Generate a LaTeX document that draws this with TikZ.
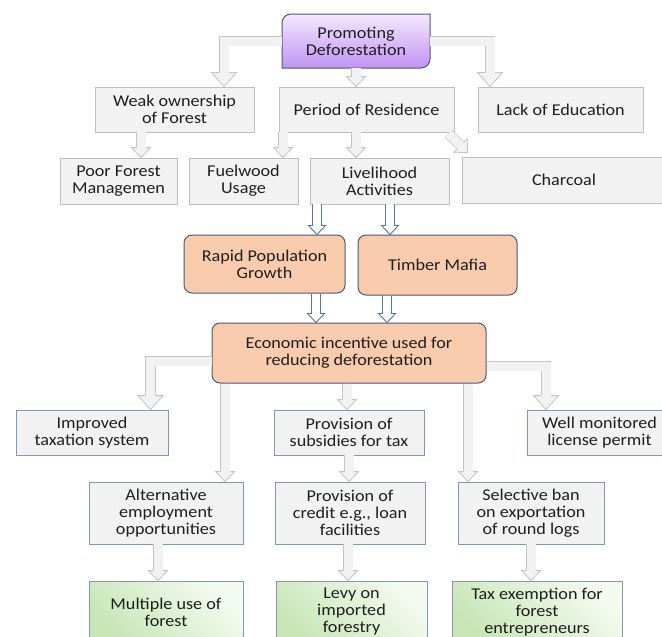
\documentclass[tikz,border=0pt]{standalone}
\usepackage{fontspec}
\setmainfont{Carlito}[FakeStretch=1.1]
\usetikzlibrary{calc}

\definecolor{boxfill}{HTML}{F2F2F2}
\definecolor{boxline}{HTML}{BFBFBF}
\definecolor{blueline}{HTML}{8497B0}
\definecolor{darkline}{HTML}{4A5A78}
\definecolor{orangefill}{HTML}{F8CBAD}
\definecolor{purpletop}{HTML}{F3E8FF}
\definecolor{purplebot}{HTML}{C193F2}
\definecolor{greenlight}{HTML}{F4FAF0}
\definecolor{greendark}{HTML}{C6E6B6}
\definecolor{arrowfill}{HTML}{F2F2F2}
\definecolor{arrowline}{HTML}{C4C4C4}
\definecolor{bluearrow}{HTML}{5676A8}

\tikzset{
  base/.style={align=center, inner sep=2pt, text=black!88,
    font=\fontsize{16.5}{17}\selectfont},
  graybox/.style={base, draw=boxline, fill=boxfill, line width=0.8pt},
  bluebox/.style={base, draw=blueline, fill=boxfill, line width=0.8pt},
  orangebox/.style={base, draw=darkline, fill=orangefill, line width=1pt, rounded corners=8pt},
  greenbox/.style={base, draw=blueline, line width=0.8pt,
    top color=greenlight, bottom color=greendark, shading angle=-45},
  gshaft/.style={draw=arrowline, line width=0.8pt, double=arrowfill, double distance=9pt},
  bshaft/.style={draw=bluearrow, line width=0.9pt, double=white, double distance=7.5pt},
  pics/ghead/.style 2 args={code={
    \fill[arrowfill] (-#1,#2) -- (0,0) -- (#1,#2) -- cycle;
    \draw[arrowline, line width=0.8pt] (-4.9,#2) -- (-#1,#2) -- (0,0) -- (#1,#2) -- (4.9,#2);}},
  pics/bhead/.style 2 args={code={
    \fill[white] (-#1,#2) -- (0,0) -- (#1,#2) -- cycle;
    \draw[bluearrow, line width=0.9pt] (-4.2,#2) -- (-#1,#2) -- (0,0) -- (#1,#2) -- (4.2,#2);}},
}

% straight drops: source, x offset from source centre, target
\newcommand{\gdrop}[3]{%
  \coordinate (gs) at ($(#1.south)+(#2,0)$);
  \draw[gshaft] (gs) -- ($(gs |- #3.north)+(0,9)$);
  \pic at (gs |- #3.north) {ghead={9.5}{10}};
}
\newcommand{\bdrop}[3]{%
  \coordinate (bs) at ($(#1.south)+(#2,0)$);
  \draw[bshaft] (bs) -- ($(bs |- #3.north)+(0,8)$);
  \pic at (bs |- #3.north) {bhead={8.5}{9}};
}

\begin{document}
\begin{tikzpicture}[x=1pt, y=1pt]
  \useasboundingbox (0,0) rectangle (662,-637);

  % top box, two corners rounded
  \path[draw=darkline, line width=1pt, top color=purpletop, bottom color=purplebot]
    (282,-68) -- (282,-23) arc (180:90:9pt) -- (430,-14) -- (430,-59) arc (0:-90:9pt) -- cycle;
  \node[base, minimum width=148pt, minimum height=54pt] (promo) at (356,-41) {Promoting\\Deforestation};

  % causes
  \node[graybox, minimum width=159pt, minimum height=45pt] (weak) at (174.5,-109.5) {Weak ownership\\of Forest};
  \node[graybox, minimum width=175pt, minimum height=45pt] (period) at (366.5,-109.5) {Period of Residence};
  \node[graybox, minimum width=165pt, minimum height=45pt] (lack) at (560.5,-109.5) {Lack of Education};
  \node[graybox, minimum width=117pt, minimum height=46pt] (poor) at (118.5,-181) {Poor Forest\\Managemen};
  \node[graybox, minimum width=109pt, minimum height=46pt] (fuel) at (243.5,-181) {Fuelwood\\Usage};
  \node[graybox, minimum width=139pt, minimum height=46pt] (liveli) at (379.5,-181) {Livelihood\\Activities};
  \node[graybox, minimum width=204pt, minimum height=46pt] (charcoal) at (564,-180) {Charcoal};

  \node[orangebox, minimum width=161pt, minimum height=58pt] (rapid) at (264.5,-264) {Rapid Population\\Growth};
  \node[orangebox, minimum width=159pt, minimum height=60pt] (timber) at (437.5,-265) {Timber Mafia};
  \node[orangebox, minimum width=274pt, minimum height=60pt] (econ) at (349,-353) {Economic incentive used for\\reducing deforestation};

  % incentives
  \node[bluebox, minimum width=152pt, minimum height=45pt] (improved) at (92,-432.5) {Improved\\taxation system};
  \node[bluebox, minimum width=150pt, minimum height=45pt] (subsid) at (349,-432.5) {Provision of\\subsidies for tax};
  \node[bluebox, minimum width=145pt, minimum height=45pt] (well) at (599.5,-432.5) {Well monitored\\license permit};
  \node[bluebox, minimum width=154pt, minimum height=62pt] (altern) at (166,-513) {Alternative\\employment\\opportunities};
  \node[bluebox, minimum width=150pt, minimum height=62pt] (credit) at (350,-513) {Provision of\\credit e.g., loan\\facilities};
  \node[bluebox, minimum width=146pt, minimum height=62pt] (select) at (531,-513) {Selective ban\\on exportation\\of round logs};
  \node[greenbox, minimum width=154pt, minimum height=62pt] (multiple) at (166,-612) {Multiple use of\\forest};
  \node[greenbox, minimum width=151pt, minimum height=62pt] (levy) at (351.5,-612) {Levy on\\imported\\forestry};
  \node[greenbox, minimum width=170pt, minimum height=62pt] (taxex) at (537,-612) {Tax exemption for\\forest\\entrepreneurs};

  % elbow arrows
  \draw[gshaft] (promo.west) -| ($(weak.north)+(49.5,13)$);
  \pic at ($(weak.north)+(49.5,0)$) {ghead={12.5}{14}};
  \draw[gshaft] (promo.east) -| ($(lack.north)+(-70.5,13)$);
  \pic at ($(lack.north)+(-70.5,0)$) {ghead={12.5}{14}};
  \draw[gshaft] ($(econ.west)+(0,-8)$) -| ($(improved.north)+(58.5,13)$);
  \pic at ($(improved.north)+(58.5,0)$) {ghead={12.5}{14}};
  \draw[gshaft] ($(econ.east)+(0,-13)$) -| ($(well.north)+(-53.5,13)$);
  \pic at ($(well.north)+(-53.5,0)$) {ghead={12.5}{14}};

  % straight arrows
  \gdrop{promo}{0}{period}
  \gdrop{weak}{-33.5}{poor}
  \gdrop{period}{-83.5}{fuel}
  \gdrop{period}{-10.5}{liveli}
  \gdrop{econ}{-124}{altern}
  \gdrop{econ}{-2}{subsid}
  \gdrop{econ}{119}{select}
  \gdrop{subsid}{0}{credit}
  \gdrop{altern}{-8}{multiple}
  \gdrop{credit}{-2}{levy}
  \gdrop{select}{0}{taxex}

  \coordinate (ds) at ($(period.south east)+(-6,-1)$);
  \coordinate (dt) at ($(charcoal.north west)+(6,4)$);
  \draw[gshaft] (ds) -- ($(dt)!9pt!(ds)$);
  \pic[rotate=45] at (dt) {ghead={9.5}{10}};

  \bdrop{liveli}{-62.5}{rapid}
  \bdrop{liveli}{10.5}{timber}
  \bdrop{rapid}{51.5}{econ}
  \bdrop{timber}{-50.5}{econ}
\end{tikzpicture}
\end{document}
